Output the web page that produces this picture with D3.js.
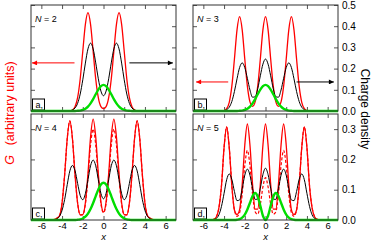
<!DOCTYPE html>
<html>
<head>
<meta charset="utf-8">
<script src="https://cdn.jsdelivr.net/npm/d3@7"></script>
<style>
  body { margin: 0; background: #fff; }
  svg { display: block; font-family: "Liberation Sans", Arial, sans-serif; }
</style>
</head>
<body>
<div id="chart-area"></div>
<script>
// sample positions along x (top row N=2,3 and bottom row N=4,5)
const xAB = [-7,-4.5,-4.25,-4,-3.75,-3.5,-3.25,-3,-2.75,-2.5,-2.25,-2,-1.75,-1.5,-1.25,-1,-0.75,-0.5,-0.25,0,0.25,0.5,0.75,1,1.25,1.5,1.75,2,2.25,2.5,2.75,3,3.25,3.5,3.75,4,4.25,4.5,7];
const xCD = [-7,-5.5,-5.25,-5,-4.75,-4.5,-4.25,-4,-3.75,-3.5,-3.25,-3,-2.75,-2.5,-2.25,-2,-1.75,-1.5,-1.25,-1,-0.75,-0.5,-0.25,0,0.25,0.5,0.75,1,1.25,1.5,1.75,2,2.25,2.5,2.75,3,3.25,3.5,3.75,4,4.25,4.5,4.75,5,5.25,5.5,7];

// N = 2
const redA   = [0, 0,0,0,0,0,0.001,0.005,0.020,0.063,0.151,0.282,0.409,0.464,0.409,0.282,0.151,0.063,0.021, 0.011, 0.021,0.063,0.151,0.282,0.409,0.464,0.409,0.282,0.151,0.063,0.020,0.005,0.001,0,0,0,0,0, 0];
const blackA = [0, 0,0,0,0,0,0.001,0.005,0.014,0.036,0.080,0.147,0.226,0.293,0.320,0.293,0.227,0.152,0.094, 0.072, 0.094,0.152,0.227,0.293,0.320,0.293,0.226,0.147,0.080,0.036,0.014,0.005,0.001,0,0,0,0,0, 0];
const greenAB = [0, 0,0,0,0,0,0,0,0,0.001,0.002,0.005,0.011,0.021,0.036,0.056,0.079,0.101,0.117, 0.123, 0.117,0.101,0.079,0.056,0.036,0.021,0.011,0.005,0.002,0.001,0,0,0,0,0,0,0,0, 0];

// N = 3
const redB   = [0, 0,0,0.002,0.011,0.041,0.117,0.245,0.383,0.445,0.383,0.245,0.117,0.043,0.022,0.043,0.117,0.245,0.383, 0.445, 0.383,0.245,0.117,0.043,0.022,0.043,0.117,0.245,0.383,0.445,0.383,0.245,0.117,0.041,0.011,0.002,0,0, 0];
const blackB = [0, 0,0,0.002,0.006,0.018,0.045,0.092,0.152,0.205,0.227,0.205,0.154,0.099,0.065,0.067,0.105,0.166,0.221, 0.245, 0.221,0.166,0.105,0.067,0.065,0.099,0.154,0.205,0.227,0.205,0.152,0.092,0.045,0.018,0.006,0.002,0,0, 0];

// N = 4
const redC   = [0, 0,0,0,0.002,0.006,0.014,0.056,0.150,0.269,0.327,0.269,0.150,0.056,0.017,0.018,0.057,0.153,0.274,0.333,0.274,0.153,0.060, 0.026, 0.060,0.153,0.274,0.333,0.274,0.153,0.057,0.018,0.017,0.056,0.150,0.269,0.327,0.269,0.150,0.056,0.014,0.006,0.002,0,0,0, 0];
const dashC  = [0, 0,0,0,0.002,0.006,0.014,0.056,0.150,0.269,0.327,0.269,0.150,0.056,0.017,0.018,0.052,0.138,0.247,0.300,0.247,0.138,0.054, 0.024, 0.054,0.138,0.247,0.300,0.247,0.138,0.052,0.018,0.017,0.056,0.150,0.269,0.327,0.269,0.150,0.056,0.014,0.006,0.002,0,0,0, 0];
const blackC = [0, 0,0,0,0.001,0.004,0.012,0.032,0.068,0.117,0.162,0.180,0.163,0.121,0.081,0.067,0.087,0.133,0.179,0.198,0.179,0.133,0.088, 0.070, 0.088,0.133,0.179,0.198,0.179,0.133,0.087,0.067,0.081,0.121,0.163,0.180,0.162,0.117,0.068,0.032,0.012,0.004,0.001,0,0,0, 0];
const greenC = [0, 0,0,0,0,0,0,0,0,0,0,0,0,0.001,0.002,0.005,0.011,0.021,0.036,0.056,0.079,0.101,0.117, 0.123, 0.117,0.101,0.079,0.056,0.036,0.021,0.011,0.005,0.002,0.001,0,0,0,0,0,0,0,0,0,0,0,0, 0];

// N = 5
const redD   = [0, 0,0,0.002,0.010,0.040,0.113,0.239,0.307,0.239,0.113,0.033,0.018,0.034,0.117,0.247,0.317,0.247,0.118,0.036,0.036,0.118,0.247, 0.317, 0.247,0.118,0.036,0.036,0.118,0.247,0.317,0.247,0.117,0.034,0.018,0.033,0.113,0.239,0.307,0.239,0.113,0.040,0.010,0.002,0,0, 0];
const dashD  = [0, 0,0,0.002,0.010,0.040,0.113,0.239,0.307,0.239,0.113,0.033,0.012,0.024,0.085,0.179,0.230,0.179,0.085,0.027,0.019,0.052,0.109, 0.140, 0.109,0.052,0.019,0.027,0.085,0.179,0.230,0.179,0.085,0.024,0.012,0.033,0.113,0.239,0.307,0.239,0.113,0.040,0.010,0.002,0,0, 0];
const blackD = [0, 0,0,0.001,0.005,0.017,0.045,0.088,0.133,0.152,0.134,0.094,0.064,0.066,0.103,0.148,0.168,0.148,0.104,0.068,0.069,0.105,0.150, 0.171, 0.150,0.105,0.069,0.068,0.104,0.148,0.168,0.148,0.103,0.066,0.064,0.094,0.134,0.152,0.133,0.088,0.045,0.017,0.005,0.001,0,0, 0];
const greenD = [0, 0,0,0,0,0,0,0,0,0,0,0,0.001,0.003,0.008,0.018,0.035,0.057,0.079,0.089,0.077,0.047,0.014, 0, 0.014,0.047,0.077,0.089,0.079,0.057,0.035,0.018,0.008,0.003,0.001,0,0,0,0,0,0,0,0,0,0,0, 0];

const xTicks = [-6,-4,-2,0,2,4,6];
const yTicksTop = [0,0.1,0.2,0.3,0.4,0.5];
const yTicksBot = [0,0.1,0.2,0.3];

const RED = "#ff0000", GREEN = "#00dd00";
const pw = 145, ph = 106;

const panels = [
  {tag:"a", n:2, xs:xAB, red:redA, dash:null,  black:blackA, green:greenAB, yMax:0.5,  yt:yTicksTop, left:31,  top:5,
   arrows:[{c:RED, x0:-2.8, x1:-6.9, y:0.227}, {c:"#000", x0:2.5, x1:6.7, y:0.227}]},
  {tag:"b", n:3, xs:xAB, red:redB, dash:null,  black:blackB, green:greenAB, yMax:0.5,  yt:yTicksTop, left:193, top:5, right:true,
   arrows:[{c:RED, x0:-3.6, x1:-6.7, y:0.137}, {c:"#000", x0:3.0, x1:6.6, y:0.137}]},
  {tag:"c", n:4, xs:xCD, red:redC, dash:dashC, black:blackC, green:greenC,  yMax:0.35, yt:yTicksBot, left:31,  top:114, bottom:true, arrows:[]},
  {tag:"d", n:5, xs:xCD, red:redD, dash:dashD, black:blackD, green:greenD,  yMax:0.35, yt:yTicksBot, left:193, top:114, bottom:true, right:true, arrows:[]}
];

const svg = d3.select("#chart-area").append("svg")
    .attr("width", 374)
    .attr("height", 242);

const defs = svg.append("defs");
[["red", RED], ["blk", "#000"]].forEach(([id, c]) => {
  defs.append("marker").attr("id", "head-" + id)
      .attr("viewBox", "0 0 6 6").attr("refX", 6).attr("refY", 3)
      .attr("markerWidth", 6).attr("markerHeight", 5)
      .attr("markerUnits", "userSpaceOnUse").attr("orient", "auto")
    .append("path").attr("d", "M0,0L6,3L0,6Z").attr("fill", c);
});

panels.forEach(p => {
  const g = svg.append("g").attr("transform", `translate(${p.left},${p.top})`);
  const x = d3.scaleLinear().domain([-7, 7]).range([0, pw]);
  const y = d3.scaleLinear().domain([0, p.yMax]).range([ph, 0]);

  // inward ticks on every side
  const tickStyle = sel => { sel.select(".domain").remove(); sel.selectAll("line").attr("stroke", "#555"); };
  g.append("g").attr("transform", `translate(0,${ph})`).call(d3.axisBottom(x).tickValues(xTicks).tickSize(-4).tickFormat("")).call(tickStyle);
  g.append("g").call(d3.axisTop(x).tickValues(xTicks).tickSize(-4).tickFormat("")).call(tickStyle);
  g.append("g").call(d3.axisLeft(y).tickValues(p.yt).tickSize(-4).tickFormat("")).call(tickStyle);
  g.append("g").attr("transform", `translate(${pw},0)`).call(d3.axisRight(y).tickValues(p.yt).tickSize(-4).tickFormat("")).call(tickStyle);

  if (p.bottom) {
    const ax = g.append("g").attr("transform", `translate(0,${ph})`)
      .call(d3.axisBottom(x).tickValues(xTicks).tickSize(0).tickPadding(2.3).tickFormat(d3.format("d")));
    ax.select(".domain").remove();
    ax.selectAll("text").attr("font-size", 9.5).attr("font-family", null).text(d => String(d));
    g.append("text").attr("x", x(0)).attr("y", ph + 19.8).attr("text-anchor", "middle")
      .attr("font-size", 9.5).attr("font-style", "italic").text("x");
  }
  if (p.right) {
    const ay = g.append("g").attr("transform", `translate(${pw},0)`)
      .call(d3.axisRight(y).tickValues(p.yt).tickSize(0).tickPadding(4).tickFormat(d3.format(".1f")));
    ay.select(".domain").remove();
    ay.selectAll("text").attr("font-size", 10).attr("font-family", null);
  }

  // panel letter box
  const bx = g.append("g").attr("transform", `translate(1.5,${ph - 12})`);
  bx.append("rect").attr("width", 12).attr("height", 11).attr("fill", "#fff").attr("stroke", "#000").attr("stroke-width", 1);
  bx.append("text").attr("x", 3).attr("y", 8.5).attr("font-size", 9).text(p.tag + ",");

  // curves
  const clipId = "clip-" + p.tag;
  defs.append("clipPath").attr("id", clipId).append("rect")
      .attr("x", 0).attr("y", -4).attr("width", pw).attr("height", ph + 6);
  const plot = g.append("g").attr("clip-path", `url(#${clipId})`);
  const line = vals => d3.line().x((d, i) => x(p.xs[i])).y(d => y(d)).curve(d3.curveMonotoneX)(vals);

  plot.append("path").attr("d", line(p.red)).attr("fill", "none").attr("stroke", RED).attr("stroke-width", 1.3);
  if (p.dash) {
    plot.append("path").attr("d", line(p.dash)).attr("fill", "none").attr("stroke", RED)
      .attr("stroke-width", 1.2).attr("stroke-dasharray", "3,2");
  }
  plot.append("path").attr("d", line(p.black)).attr("fill", "none").attr("stroke", "#000").attr("stroke-width", 1);
  plot.append("path").attr("d", line(p.green)).attr("fill", "none").attr("stroke", GREEN).attr("stroke-width", 2.4);

  // arrows
  p.arrows.forEach(a => {
    g.append("line").attr("x1", x(a.x0)).attr("x2", x(a.x1)).attr("y1", y(a.y)).attr("y2", y(a.y))
      .attr("stroke", a.c).attr("stroke-width", 1)
      .attr("marker-end", `url(#head-${a.c === RED ? "red" : "blk"})`);
  });

  // frame
  g.append("rect").attr("width", pw).attr("height", ph).attr("fill", "none").attr("stroke", "#333").attr("stroke-width", 1);

  // N label
  const t = g.append("text").attr("x", 4).attr("y", 17).attr("font-size", 9);
  t.append("tspan").attr("font-style", "italic").text("N");
  t.append("tspan").text(" = " + p.n);
});

// axis titles
const gl = svg.append("text").attr("transform", "translate(14,113) rotate(-90)")
    .attr("text-anchor", "middle").attr("fill", RED).attr("font-size", 12.5);
gl.append("tspan").attr("font-style", "italic").text("G");
gl.append("tspan").attr("xml:space", "preserve").text("\u2002 (arbitrary units)");

svg.append("text").attr("transform", "translate(361,109) rotate(90)")
    .attr("text-anchor", "middle").attr("font-size", 12).text("Charge density");
</script>
</body>
</html>
